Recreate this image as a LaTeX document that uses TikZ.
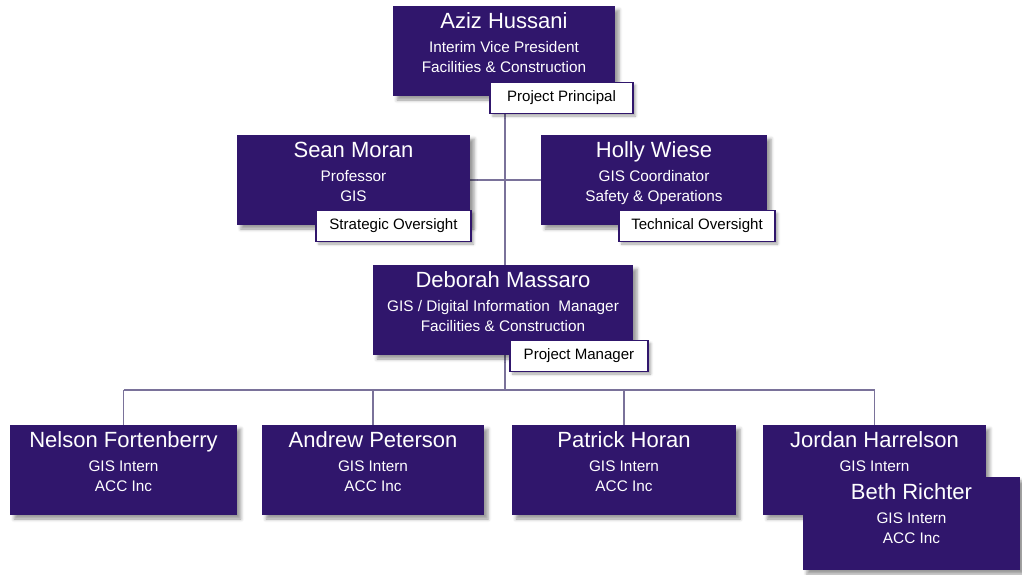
\documentclass[tikz,border=0pt]{standalone}
\usepackage{fontspec}
\setmainfont{Liberation Sans}
\usetikzlibrary{positioning, shadows.blur, backgrounds}

\definecolor{orgpurple}{RGB}{48,22,108}
\definecolor{orgline}{RGB}{122,114,154}

\begin{document}
\begin{tikzpicture}[
			x=0.75pt, y=-0.75pt,
			person/.style={rectangle, fill=orgpurple, inner sep=0pt, minimum height=67.5pt,
				blur shadow={shadow xshift=3pt, shadow yshift=-3pt, shadow blur radius=2.5pt, shadow opacity=40}},
			tag/.style={rectangle, draw=orgpurple, line width=1.1pt, fill=white, inner sep=0pt, minimum height=23pt,
				font=\fontsize{11.3}{13}\selectfont,
				blur shadow={shadow xshift=2pt, shadow yshift=-2pt, shadow blur radius=2pt, shadow opacity=35}},
			who/.style={anchor=north, align=center, text=white, inner sep=0pt, font=\fontsize{11.5}{15}\selectfont},
			link/.style={draw=orgline, line width=0.8pt}
			]
			\useasboundingbox (0,0) rectangle (1022,575);
			
			% --- Kierownictwo ---
			\node[person, minimum width=166.5pt] (aziz) at (504,51) {};
			\node[who, below=5pt of aziz.north] (azizT) {{\fontsize{16.5}{18}\selectfont Aziz Hussani}\\[3pt] Interim Vice President\\ Facilities \& Construction};
			\node[tag, minimum width=107pt] (principal) at (561.5,98) {Project Principal};
			
			\node[person, minimum width=175pt] (sean) at (353.5,180) {};
			\node[who, below=5pt of sean.north] (seanT) {{\fontsize{16.5}{18}\selectfont Sean Moran}\\[3pt] Professor\\ GIS};
			\node[tag, minimum width=116pt] (strategic) at (393.5,226) {Strategic Oversight};
			
			\node[person, minimum width=169.5pt] (holly) at (654,180) {};
			\node[who, below=5pt of holly.north] (hollyT) {{\fontsize{16.5}{18}\selectfont Holly Wiese}\\[3pt] GIS Coordinator\\ Safety \& Operations};
			\node[tag, minimum width=117pt] (technical) at (697,226) {Technical Oversight};
			
			\node[person, minimum width=195pt] (deb) at (503,310) {};
			\node[who, below=5pt of deb.north] (debT) {{\fontsize{16.5}{18}\selectfont Deborah Massaro}\\[3pt] GIS / Digital Information\ \ Manager\\ Facilities \& Construction};
			\node[tag, minimum width=103.5pt] (manager) at (579,356) {Project Manager};
			
			% --- Stażyści ---
			\node[person, minimum width=170pt] (nelson) at (123.5,470) {};
			\node[who, below=5pt of nelson.north] (nelsonT) {{\fontsize{16.5}{18}\selectfont Nelson Fortenberry}\\[3pt] GIS Intern\\ ACC Inc};
			
			\node[person, minimum width=166.5pt] (andrew) at (373,470) {};
			\node[who, below=5pt of andrew.north] (andrewT) {{\fontsize{16.5}{18}\selectfont Andrew Peterson}\\[3pt] GIS Intern\\ ACC Inc};
			
			\node[person, minimum width=168pt] (patrick) at (624,470) {};
			\node[who, below=5pt of patrick.north] (patrickT) {{\fontsize{16.5}{18}\selectfont Patrick Horan}\\[3pt] GIS Intern\\ ACC Inc};
			
			\node[person, minimum width=167pt] (jordan) at (874.5,470) {};
			\node[who, below=5pt of jordan.north] (jordanT) {{\fontsize{16.5}{18}\selectfont Jordan Harrelson}\\[3pt] GIS Intern};
			
			\node[person, minimum width=163pt, minimum height=70pt] (beth) at (911.5,523.5) {};
			\node[who, below=5pt of beth.north] (bethT) {{\fontsize{16.5}{18}\selectfont Beth Richter}\\[3pt] GIS Intern\\ ACC Inc};
			
			% --- Linie powiązań ---
			\coordinate (bus) at (505,390);
			\begin{scope}[on background layer]
				\draw[link] (principal.south -| bus) -- (deb.north -| bus);
				\draw[link] (sean.east) -- (holly.west);
				\draw[link] (deb.south -| bus) -- (bus);
				\draw[link] (nelson.north |- bus) -- (jordan.north |- bus);
				\foreach \kid in {nelson, andrew, patrick, jordan}
					\draw[link] (\kid.north |- bus) -- (\kid.north);
			\end{scope}
			
		\end{tikzpicture}
\end{document}
